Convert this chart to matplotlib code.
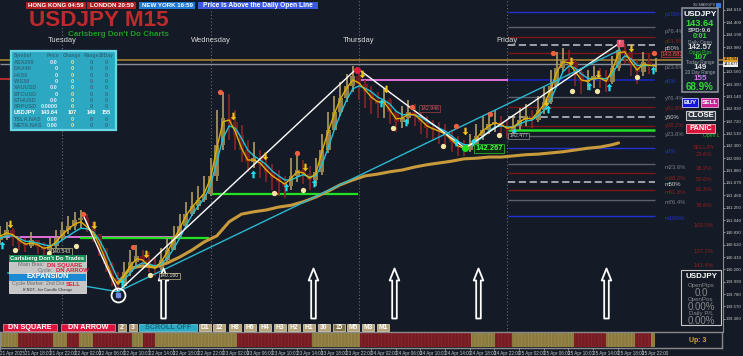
import matplotlib
matplotlib.use('Agg')
import matplotlib.pyplot as plt
from matplotlib.patches import Rectangle
from matplotlib.path import Path
import numpy as np

plt.rcParams['font.family'] = ['Liberation Sans', 'DejaVu Sans']
plt.rcParams['hatch.linewidth'] = 0.5

# ---------------- data: x = hours after 21 Apr 14:00, y = USDJPY price ----------------
hours = list(range(107))
first_open = 140.70
bar_close = [140.77, 140.87, 140.73, 140.63, 140.60, 140.70, 140.58, 140.53, 140.60, 140.73,
             140.87, 140.94, 141.04, 141.07, 140.94, 140.80, 140.56, 140.29, 140.05, 139.92,
             140.16, 140.33, 140.43, 140.36, 140.26, 140.22, 140.36, 140.53, 140.73, 140.94,
             141.14, 141.28, 141.38, 141.48, 141.79, 142.32, 142.77, 142.71, 142.49, 142.23,
             142.03, 142.09, 141.98, 141.86, 141.75, 141.69, 141.62, 141.79, 141.89, 141.82,
             141.72, 141.86, 142.23, 142.57, 142.88, 143.11, 143.32, 143.49, 143.35, 143.22,
             143.08, 143.01, 143.08, 142.88, 142.71, 142.77, 142.88, 142.81, 142.71, 142.60,
             142.57, 142.54, 142.47, 142.37, 142.28, 142.23, 142.33, 142.47, 142.57, 142.67,
             142.71, 142.64, 142.57, 142.64, 142.74, 142.81, 142.74, 142.91, 143.05, 143.32,
             143.62, 143.76, 143.73, 143.56, 143.39, 143.42, 143.49, 143.45, 143.39, 143.62,
             143.93, 143.90, 143.69, 143.56, 143.73, 143.66, 143.66]
bar_high = [140.94, 141.01, 140.90, 140.77, 140.73, 140.84, 140.70, 140.67, 140.73, 140.87,
            141.01, 141.11, 141.18, 141.21, 141.14, 141.01, 140.77, 140.56, 140.33, 140.16,
            140.33, 140.53, 140.62, 140.53, 140.50, 140.39, 140.56, 140.73, 140.94, 141.14,
            141.35, 141.52, 141.62, 141.79, 142.09, 142.91, 143.22, 143.18, 142.91, 142.66,
            142.40, 142.37, 142.23, 142.13, 141.99, 141.89, 141.79, 142.09, 142.20, 142.06,
            141.96, 142.09, 142.50, 142.88, 143.15, 143.39, 143.52, 143.66, 143.56, 143.42,
            143.32, 143.22, 143.28, 143.11, 142.91, 142.98, 143.08, 143.01, 142.91, 142.81,
            142.74, 142.71, 142.67, 142.57, 142.47, 142.40, 142.50, 142.67, 142.81, 142.88,
            142.91, 142.81, 142.74, 142.81, 142.94, 143.01, 142.91, 143.15, 143.32, 143.59,
            143.90, 143.96, 143.93, 143.76, 143.62, 143.59, 143.66, 143.62, 143.59, 143.83,
            144.07, 144.03, 143.90, 143.76, 143.90, 143.86, 143.79]
bar_low = [140.63, 140.70, 140.60, 140.53, 140.50, 140.56, 140.46, 140.43, 140.46, 140.56,
           140.70, 140.80, 140.87, 140.90, 140.84, 140.67, 140.43, 140.16, 139.92, 139.82,
           139.88, 140.09, 140.26, 140.19, 140.16, 140.09, 140.19, 140.33, 140.53, 140.73,
           140.90, 141.11, 141.21, 141.35, 141.45, 141.70, 142.23, 142.40, 142.23, 142.03,
           141.86, 141.92, 141.75, 141.69, 141.55, 141.45, 141.41, 141.55, 141.69, 141.65,
           141.55, 141.62, 141.80, 142.18, 142.57, 142.81, 143.05, 143.22, 143.08, 142.94,
           142.84, 142.77, 142.77, 142.67, 142.54, 142.60, 142.67, 142.64, 142.50, 142.43,
           142.40, 142.33, 142.30, 142.20, 142.13, 142.13, 142.20, 142.30, 142.40, 142.50,
           142.54, 142.50, 142.43, 142.50, 142.57, 142.64, 142.60, 142.71, 142.84, 143.01,
           143.32, 143.56, 143.49, 143.32, 143.18, 143.25, 143.28, 143.28, 143.22, 143.35,
           143.58, 143.69, 143.49, 143.35, 143.49, 143.52, 143.56]
ema_fast = [140.77, 140.82, 140.79, 140.70, 140.63, 140.65, 140.62, 140.56, 140.58, 140.67,
            140.79, 140.89, 140.97, 141.01, 140.92, 140.82, 140.62, 140.36, 140.09, 139.95,
            140.09, 140.26, 140.38, 140.36, 140.26, 140.22, 140.33, 140.50, 140.70, 140.90,
            141.11, 141.26, 141.38, 141.50, 141.75, 142.26, 142.71, 142.74, 142.54, 142.26,
            142.06, 142.06, 142.01, 141.89, 141.79, 141.72, 141.65, 141.75, 141.86, 141.84,
            141.75, 141.82, 142.20, 142.54, 142.84, 143.10, 143.28, 143.42, 143.37, 143.25,
            143.13, 143.05, 143.05, 142.91, 142.76, 142.77, 142.84, 142.83, 142.74, 142.64,
            142.59, 142.55, 142.50, 142.40, 142.30, 142.26, 142.32, 142.43, 142.55, 142.64,
            142.69, 142.66, 142.60, 142.62, 142.71, 142.77, 142.76, 142.88, 143.01, 143.25,
            143.56, 143.73, 143.71, 143.56, 143.42, 143.40, 143.45, 143.45, 143.40, 143.59,
            143.88, 143.90, 143.73, 143.59, 143.69, 143.67, 143.66]
ema_slow = [140.73, 140.77, 140.77, 140.73, 140.68, 140.67, 140.65, 140.62, 140.60, 140.63,
            140.70, 140.77, 140.84, 140.90, 140.89, 140.84, 140.70, 140.50, 140.26, 140.04,
            140.02, 140.14, 140.26, 140.31, 140.29, 140.26, 140.29, 140.39, 140.55, 140.73,
            140.94, 141.13, 141.28, 141.41, 141.64, 142.03, 142.43, 142.64, 142.60, 142.43,
            142.23, 142.13, 142.06, 141.98, 141.87, 141.79, 141.72, 141.72, 141.77, 141.81,
            141.77, 141.79, 141.98, 142.26, 142.57, 142.84, 143.08, 143.27, 143.32, 143.28,
            143.22, 143.13, 143.08, 143.01, 142.89, 142.83, 142.83, 142.83, 142.79, 142.72,
            142.66, 142.60, 142.55, 142.47, 142.38, 142.32, 142.32, 142.37, 142.45, 142.55,
            142.62, 142.64, 142.62, 142.62, 142.67, 142.72, 142.74, 142.81, 142.91, 143.08,
            143.32, 143.56, 143.66, 143.62, 143.52, 143.45, 143.44, 143.45, 143.44, 143.52,
            143.71, 143.83, 143.78, 143.67, 143.66, 143.67, 143.66]
vwap_h = [19, 21, 23, 25, 27, 29, 31, 33, 35, 37, 39, 41, 43, 45, 47, 49, 51, 53, 55, 57, 59,
          61, 63, 65, 67, 69, 71, 73, 75, 77, 79, 81, 83, 85, 87, 89, 91, 93, 95, 97, 99, 100]
vwap_px = [139.97, 140.22, 140.26, 140.24, 140.31, 140.41, 140.53, 140.67, 140.77, 141.01,
           141.14, 141.18, 141.21, 141.26, 141.29, 141.35, 141.43, 141.53, 141.64, 141.72,
           141.79, 141.82, 141.86, 141.89, 141.94, 141.98, 142.01, 142.04, 142.08, 142.09,
           142.11, 142.11, 142.13, 142.15, 142.16, 142.18, 142.20, 142.23, 142.26, 142.28,
           142.32, 142.35]

# signal markers (hour, price)
up_arrow_h = [0.3, 19.7, 40.9, 46.2, 50.7, 61.6, 65.6, 73.7, 76.5, 83.1, 88.6, 95.2, 98.5, 105.6]
up_arrow_p = [140.62, 139.97, 141.82, 141.60, 141.67, 143.03, 142.71, 142.37, 142.37, 142.54,
              142.93, 143.32, 143.30, 143.59]
dn_arrow_h = [1.5, 15.1, 23.5, 37.6, 42.8, 49.3, 58.5, 62.4, 75.2, 88.3, 92.3, 96.7, 102.0]
dn_arrow_p = [140.97, 140.96, 140.46, 142.81, 142.13, 141.94, 143.52, 143.27, 142.55, 143.05,
              143.74, 143.52, 143.96]
red_dot_h = [13.3, 21.4, 35.5, 48.0, 66.6, 73.7, 79.2, 89.4, 105.8]
red_dot_p = [141.14, 140.58, 143.22, 142.18, 142.96, 142.64, 142.84, 143.88, 143.88]
pale_dot_h = [2.4, 7.9, 12.2, 24.2, 44.3, 49.0, 63.5, 71.6, 80.7, 92.5, 96.5, 103.0]
pale_dot_p = [140.53, 140.48, 140.60, 140.11, 141.50, 141.55, 142.60, 142.30, 142.49, 143.23,
              143.23, 143.47]
big_arrow_h = [26.3, 50.6, 63.7, 77.3, 98.0]

# zigzag / trend lines
white_h = [13.3, 19.0, 57.7, 75.2, 100.2]
white_p = [141.14, 139.82, 143.62, 142.26, 144.05]
cyan_h = [1.2, 19.0, 100.2]
cyan_p = [140.14, 139.82, 143.93]

# horizontal level segments: start hour, end hour, price, colour, width
lev_h0 = [-0.1, -0.1, -0.1, 12.9, -0.1, 34.2, 57.9, 82.1, 82.1]
lev_h1 = [117, 117, 28.6, 33.7, 1.5, 57.9, 82.1, 105.9, 105.9]
lev_p = [143.76, 143.69, 140.75, 140.73, 143.44, 141.48, 143.42, 143.42, 142.57]
lev_c = ['#9a7a30', '#8a8e96', '#e070d8', '#22e022', '#d03030', '#22e022', '#e070d8', '#1a28c8', '#22e022']
lev_w = [1.3, 1.0, 1.4, 1.6, 1.2, 1.6, 1.4, 1.1, 1.8]

fib_p = [144.58, 144.32, 144.15, 144.02, 143.88, 143.13, 142.96, 142.79, 142.64, 142.47,
         142.26, 141.99, 141.84, 141.69, 141.55, 141.38, 141.11]
fib_kind = ['b', 'g', 'r', 'd', 'r', 'g', 'r', 'd', 'r', 'g', 'b', 'g', 'r', 'd', 'r', 'g', 'b']

fib_names = ['p100%', 'p76.4%', 'p61.8%', 'p50%', 'p23.6%', 'p0%', 'y76.4%', 'y61.8%', 'y50%',
             'y38.2%', 'y23.6%', 'y0%', 'm23.6%', 'm38.2%', 'm50%', 'm61.8%', 'm76.4%', 'm100%']
fib_label_p = [144.53, 144.25, 144.08, 143.96, 143.64, 143.39, 143.10, 142.93, 142.79, 142.64,
               142.49, 142.20, 141.94, 141.75, 141.64, 141.50, 141.33, 141.06]
fib_label_kind = ['b', 'g', 'r', 'd', 'g', 'b', 'g', 'r', 'd', 'r', 'g', 'b', 'g', 'r', 'd', 'r', 'g', 'b']
ext_names = ['SELL/Pr', '23.6%', '38.2%', '50.0%', '61.8%', '78.6%', '100.0%', '127.2%', '141.4%']
ext_p = [142.28, 142.15, 141.91, 141.72, 141.55, 141.28, 140.94, 140.50, 140.27]

day_names = ['Tuesday', 'Wednesday', 'Thursday', 'Friday']
day_h = [10, 34, 58, 82]

time_labels = ['21 Apr 2025', '21 Apr 18:00', '21 Apr 22:00', '22 Apr 02:00', '22 Apr 06:00',
               '22 Apr 10:00', '22 Apr 14:00', '22 Apr 18:00', '22 Apr 22:00', '23 Apr 02:00',
               '23 Apr 06:00', '23 Apr 10:00', '23 Apr 14:00', '23 Apr 18:00', '23 Apr 22:00',
               '24 Apr 02:00', '24 Apr 06:00', '24 Apr 10:00', '24 Apr 14:00', '24 Apr 18:00',
               '24 Apr 22:00', '25 Apr 02:00', '25 Apr 06:00', '25 Apr 10:00', '25 Apr 14:00',
               '25 Apr 18:00', '25 Apr 22:00']

price_ticks = [144.61, 144.40, 144.19, 143.98, 143.77, 143.56, 143.35, 143.14, 142.93, 142.72,
               142.51, 142.30, 142.09, 141.88, 141.67, 141.46, 141.25, 141.04, 140.83, 140.62,
               140.41, 140.20, 139.99, 139.78, 139.57, 139.36]

strip_edges = [-0.1, 2.8, 8.5, 10.8, 12.7, 15.0, 21.3, 23.1, 25.0, 38.3, 50.4, 58.3, 76.3,
               80.2, 82.8, 93.0, 98.1, 102.8, 105.4, 106.1]
strip_up = [True, False] * 9 + [True]

tbl_symbols = ['ASX200', 'DAX40', 'HK50', 'WS30', 'XAUUSD', 'BTCUSD', 'ETHUSD', 'XRPUSD',
               'USDJPY', 'TSLA.NAS', 'META.NAS']
tbl_price = ['0.0', '0', '0', '0', '0.0', '0', '0.0', '0.0000', '143.64', '0.00', '0.00']
tbl_change = ['0', '0', '0', '0', '0', '0', '0', '0', '107', '0', '0']
tbl_range = ['0', '0', '0', '0', '0', '0', '0', '0', '149', '0', '0']
tbl_20day = ['0', '0', '0', '0', '0', '0', '0', '0', '155', '0', '0']

tf_buttons = ['D1', '12', 'H8', 'H6', 'H4', 'H3', 'H2', 'H1', '30', '15', 'M5', 'M3', 'M1']

# ---------------- figure ----------------
W, H = 743, 356
BG = '#141b26'
GRAY = '#7a7e86'
DKRED = '#8e1c1c'
BLUE = '#2232d0'
kind_col = {'b': BLUE, 'g': '#5c6068', 'r': '#7a1616', 'd': '#a8acb2'}
kind_txt = {'b': BLUE, 'g': GRAY, 'r': DKRED, 'd': '#d0d0d0'}

fig = plt.figure(figsize=(W / 100, H / 100), dpi=100, facecolor=BG)
ax = fig.add_axes([0, 1 - 332 / H, 723 / W, 332 / H], facecolor=BG)
ax2 = fig.add_axes([0, 1 - 348 / H, 722 / W, 16 / H], facecolor=BG)

XL = (-0.08, 116.9)
ax.set_xlim(*XL)
ax.set_ylim(139.136, 144.78)


def fxy(x, y):
    return x / W, 1 - y / H


def pbox(x0, y0, x1, y1, fc, ec='none', lw=0.8, z=10):
    fig.add_artist(Rectangle(fxy(x0, y1), (x1 - x0) / W, (y1 - y0) / H, transform=fig.transFigure,
                             facecolor=fc, edgecolor=ec, linewidth=lw, zorder=z))


def ptext(x, y, s, color='white', size=5, ha='center', weight='bold', z=11, va='center'):
    fig.text(*fxy(x, y), s, color=color, fontsize=size, ha=ha, va=va,
             fontweight=weight, zorder=z)


# day separators
for h in day_h:
    ax.axvline(h, color='#6a6e78', ls=(0, (1, 2)), lw=0.8, zorder=1)

# horizontal levels
for h0, h1, p, c, w in zip(lev_h0, lev_h1, lev_p, lev_c, lev_w):
    ax.hlines(p, h0, h1, colors=c, lw=w, zorder=2)
for p, k in zip(fib_p, fib_kind):
    ax.hlines(p, 82.1, 105.9, colors=kind_col[k], lw=1.3 if k == 'd' else 1.0,
              linestyles=(0, (4, 2)) if k == 'd' else '-', zorder=2)

# candles
opens = [first_open] + bar_close[:-1]
is_up = [c >= o for o, c in zip(opens, bar_close)]
body_c = ['#94804c' if u else '#721b20' for u in is_up]
wick_c = ['#b09c68' if u else '#8c2428' for u in is_up]
ax.vlines(hours, bar_low, bar_high, colors=wick_c, lw=1.2, zorder=3)
ax.bar(hours, np.array(bar_close) - np.array(opens), bottom=opens, width=0.8,
       color=body_c, linewidth=0, zorder=3)

# averages
ax.plot(vwap_h, vwap_px, color='#c89a3c', lw=2.2, zorder=4, solid_capstyle='round')
ax.plot(hours, ema_slow, color='#22c4d8', lw=1.0, zorder=5)
ax.plot(hours, ema_fast, color='#e2b000', lw=1.0, zorder=5)

# trend lines
ax.plot(white_h, white_p, color='white', lw=1.0, zorder=6)
ax.plot(cyan_h, cyan_p, color='#2ab8d0', lw=1.0, zorder=6)

# markers
arrow_up = Path([(0, 3.5), (2.6, 0.6), (1.0, 0.6), (1.0, -3.5), (-1.0, -3.5), (-1.0, 0.6),
                 (-2.6, 0.6), (0, 3.5)], closed=True)
arrow_dn = Path([(x, -y) for x, y in arrow_up.vertices], closed=True)
big_arrow = Path([(0, 25), (4.8, 13), (2.3, 13), (2.3, -25), (-2.3, -25), (-2.3, 13), (-4.8, 13),
                  (0, 25)], closed=True)

ax.plot(up_arrow_h, up_arrow_p, ls='none', marker=arrow_up, ms=5.5, color='#19e0f5', mec='none', zorder=7)
ax.plot(dn_arrow_h, dn_arrow_p, ls='none', marker=arrow_dn, ms=5.5, color='#f2c21a', mec='none', zorder=7)
ax.plot(red_dot_h, red_dot_p, ls='none', marker='o', ms=3.8, color='#f0603e', mec='none', zorder=7)
ax.plot([57.7], [143.59], ls='none', marker='o', ms=4, color='#e01e3a', zorder=7)
ax.plot(pale_dot_h, pale_dot_p, ls='none', marker='o', ms=3.8, color='#f6e6a6', mec='none', zorder=7)
ax.plot([75.2], [142.26], ls='none', marker='o', ms=4, color='#22e022', zorder=7)
ax.plot(big_arrow_h, [139.80] * len(big_arrow_h), ls='none', marker=big_arrow, ms=36,
        mfc=BG, mec='white', mew=1.3, zorder=7)
ax.plot([19.0], [139.765], ls='none', marker='o', ms=10, mfc='none', mec='white', mew=1.3, zorder=8)
ax.plot([19.0], [139.765], ls='none', marker='s', ms=2.5, color='#7088e8', zorder=8)
ax.plot([100.2], [144.05], ls='none', marker='s', ms=5, color='#e8506a', zorder=8)
ax.text(100.2, 144.05, '!', color='white', fontsize=3.5, ha='center', va='center', fontweight='bold', zorder=9)

# price tags
tag_kw = dict(fontsize=3.8, ha='left', va='center', zorder=9)
ax.text(8.3, 140.50, '140.543', color='#ece6c6',
        bbox=dict(boxstyle='square,pad=0.15', fc=BG, ec='#c8bb86', lw=0.5), **tag_kw)
ax.text(25.8, 140.09, '140.160', color='#ece6c6',
        bbox=dict(boxstyle='square,pad=0.15', fc=BG, ec='#c8bb86', lw=0.5), **tag_kw)
ax.text(67.9, 142.94, '142.946', color='#e06060',
        bbox=dict(boxstyle='square,pad=0.15', fc=BG, ec='#a04040', lw=0.5), **tag_kw)
ax.text(82.3, 142.47, '142.477', color='#c8c8c8',
        bbox=dict(boxstyle='square,pad=0.15', fc=BG, ec='#909090', lw=0.5), **tag_kw)
ax.text(76.8, 142.26, '142.267', color='#44ff44', fontsize=5.4, fontweight='bold', ha='left',
        va='center', zorder=9, bbox=dict(boxstyle='square,pad=0.12', fc='#0c2a12', ec='#30b030', lw=0.6))
ax.text(107.0, 143.86, '143.882', color='#e05050', fontsize=4.3, ha='left', va='center', zorder=9,
        bbox=dict(boxstyle='square,pad=0.12', fc='#2a1a1e', ec='#c04040', lw=0.5))

# fib labels
for s, p, k in zip(fib_names, fib_label_p, fib_label_kind):
    ax.text(107.5, p, s, color=kind_txt[k], fontsize=4.2, ha='left', va='center', zorder=9)
for s, p in zip(ext_names, ext_p):
    ax.text(113.8, p, s, color=DKRED, fontsize=4.2, ha='center', va='center', zorder=9)
ax.text(113.7, 142.47, 'Open L', color='#22c022', fontsize=3.6, ha='left', va='center',
        zorder=9, clip_on=True)

# price axis
for s in ['top', 'left', 'bottom']:
    ax.spines[s].set_visible(False)
ax.spines['right'].set_color('#8a8a8a')
ax.spines['right'].set_linewidth(0.8)
ax.yaxis.tick_right()
ax.set_yticks(price_ticks)
ax.set_yticklabels(['' if abs(p - 143.77) < 0.01 else '%.3f' % p for p in price_ticks])
ax.tick_params(axis='y', length=1.5, width=0.5, pad=0.6, labelsize=3.2, colors='#c8c8c8')
ax.set_xticks([])

# bottom strip
ax2.set_xlim(*XL)
ax2.set_ylim(0, 1)
for a, b, u in zip(strip_edges[:-1], strip_edges[1:], strip_up):
    ax2.add_patch(Rectangle((a, 0.06), b - a, 0.88, facecolor='#8a7a3e' if u else '#761c22',
                            edgecolor='#a08e50' if u else '#8a2a2e', hatch='|||||', lw=0))
for s in ax2.spines.values():
    s.set_color('#8a8a8a')
    s.set_linewidth(1.0)
ax2.set_yticks([])
ax2.set_xticks(list(range(0, 105, 4)))
ax2.set_xticklabels(time_labels, ha='left')
ax2.tick_params(axis='x', length=1.5, width=0.5, pad=0.8, labelsize=3.3, colors='#c8c8c8')
ptext(698, 340, 'Up: 3', color='#d8a830', size=5)

# ---------------- overlays in pixel space ----------------
pbox(26, 2, 86, 9, '#b01e23')
ptext(56, 5.5, 'HONG KONG 04:59', size=4.4)
pbox(87, 2, 136, 9, '#b01e23')
ptext(111.5, 5.5, 'LONDON 20:59', size=4.4)
pbox(139, 2, 195, 9, '#1f78d1')
ptext(167, 5.5, 'NEW YORK 16:59', size=4.4)
pbox(198, 2, 318, 9, '#3a58e0')
ptext(258, 5.5, 'Price is Above the Daily Open Line', size=4.8)

ptext(29, 26.5, 'USDJPY M15', color='#bc2a2c', size=16.2, ha='left', va='baseline')
ptext(68, 34.5, "Carlsberg Don't Do Charts", color='#23962a', size=5.8, ha='left')

for name, h in zip(day_names, day_h):
    ptext(0.5 + h * 6.18, 40.5, name, color='#d8d8d8', size=5.4, weight='normal')

# market watch table
pbox(11, 51, 116, 130, '#2ca8c2', ec='#6ad6e6', lw=1.6)
TBL_DK = '#2f6c80'
ptext(14, 55.5, 'Symbol', color=TBL_DK, size=3.6, ha='left')
ptext(53, 55.5, 'Price', color=TBL_DK, size=3.6)
ptext(72, 55.5, 'Change', color=TBL_DK, size=3.6)
ptext(91, 55.5, 'Range', color=TBL_DK, size=3.6)
ptext(106, 55.5, '20Day', color=TBL_DK, size=3.6)
for i, sym in enumerate(tbl_symbols):
    y = 62.7 + i * 6.27
    hl = sym == 'USDJPY'
    ptext(14, y, sym, color='white' if hl else TBL_DK, size=4.0, ha='left')
    ptext(58, y, tbl_price[i], color='white' if hl else '#d8f2f8', size=4.0, ha='right')
    ptext(72, y, tbl_change[i], color='white' if hl else '#f2e88e', size=4.0)
    ptext(91, y, tbl_range[i], color='white' if hl else TBL_DK, size=4.0)
    ptext(106, y, tbl_20day[i], color='white' if hl else TBL_DK, size=4.0)

# trade status box
pbox(9, 255, 86, 293, '#c6c6c6', ec='#e0e0e0', lw=0.6)
pbox(9, 255, 86, 262, '#188a56')
ptext(47.5, 258.5, "Carlsberg Don't Do Trades", size=4.2)
ptext(44, 265, 'Main Bias:', color='#6a6a6a', size=4.0, ha='right', weight='normal')
ptext(47, 265, 'DN SQUARE', color='#d8203a', size=4.2, ha='left')
ptext(53, 270.5, 'Cycle:', color='#6a6a6a', size=4.0, ha='right', weight='normal')
ptext(56, 270.5, 'DN ARROW', color='#d8203a', size=4.2, ha='left')
pbox(9, 273.5, 86, 280.5, '#1b8ad2')
ptext(47.5, 277, 'EXPANSION', size=5.2)
ptext(64, 284, 'Cycle Marker: 2nd Dot', color='#6a6a6a', size=3.8, ha='right', weight='normal')
ptext(66, 284, 'SELL', color='#d8203a', size=4.2, ha='left')
ptext(47.5, 289.5, 'If NOT.. for Candle Change', color='#555555', size=2.8)

# bottom button row
pbox(3, 324, 57, 331, '#dc143c', ec='#f29aaa', lw=0.5)
ptext(30, 327.5, 'DN SQUARE', size=5.2)
pbox(61, 324, 115, 331, '#dc143c', ec='#f29aaa', lw=0.5)
ptext(88, 327.5, 'DN ARROW', size=5.2)
pbox(118, 324, 126, 331, '#a89068', ec='#e0d6c0', lw=0.5)
ptext(122, 327.5, '2', size=5)
pbox(129, 324, 137, 331, '#a89068', ec='#e0d6c0', lw=0.5)
ptext(133, 327.5, '3', size=5)
pbox(139, 324, 197, 331, '#2aaac4', ec='#7ad6e4', lw=0.5)
ptext(168, 327.5, 'SCROLL OFF', color='#1a6a7c', size=5.2)
tf_x0 = [199, 213, 229, 244, 259, 274, 288, 303, 318, 333, 347, 362, 377]
for lab, x0 in zip(tf_buttons, tf_x0):
    pbox(x0, 324, x0 + 12, 331, '#857348' if lab == '15' else '#b6a47c', ec='#e6dcc4', lw=0.5)
    ptext(x0 + 6, 327.5, lab, size=4.8)

# account panel (top right)
ptext(705, 5, 'XU.MARGFX', color='#b0b4bc', size=2.8, weight='normal')
pbox(716, 3, 721, 8, '#3a7ae0')
pbox(682, 8, 718, 92, '#182230', ec='#8a8e96', lw=1.2)
ptext(700, 14.5, 'USDJPY', size=6.0)
ptext(700, 23.5, '143.64', color='#33dd33', size=6.6)
ptext(700, 31, 'SPD:9.6', color='#d0d0d0', size=4.4)
ptext(700, 36.8, '0:01', color='#33dd33', size=5.2)
ptext(700, 42.3, 'Daily Open', color='#a0a4aa', size=3.4, weight='normal')
ptext(700, 47.3, '142.57', color='#e0e0e0', size=5.8)
ptext(700, 52.4, 'Open Pips', color='#33cc33', size=3.4, weight='normal')
ptext(700, 57.3, '107', color='#33dd33', size=5.8)
ptext(700, 62.7, 'Today Range', color='#a0a4aa', size=3.4, weight='normal')
ptext(700, 67.7, '149', color='#e0e0e0', size=5.8)
ptext(700, 72.8, '20 Day Range', color='#a0a4aa', size=3.4, weight='normal')
ptext(700, 78.3, '155', color='#d47cf2', size=5.8)
ptext(700, 87.3, '68.9%', color='#33dd33', size=7.0)

pbox(682, 98, 698, 107, '#1414dc', ec='#c8c8ff', lw=0.6)
ptext(690, 102.5, 'BUY', size=4.6)
pbox(701, 98, 718, 107, '#cc2494', ec='#f0b0dc', lw=0.6)
ptext(709.5, 102.5, 'SELL', size=4.6)
pbox(686, 111, 715, 120, '#2e3640', ec='#c8c8c8', lw=0.8)
ptext(700.5, 115.5, 'CLOSE', size=5.6)
pbox(686, 124, 715, 133, '#dc143c', ec='#f0b0b8', lw=0.6)
ptext(700.5, 128.5, 'PANIC', size=5.4)

# bid / ask tags on the axis
pbox(723, 57, 738, 61.5, '#e0a020')
ptext(730.5, 59.3, '143.764', color='black', size=2.8, weight='normal')
pbox(723, 62, 738, 66.5, '#f0f0f0')
ptext(730.5, 64.3, '143.677', color='black', size=2.8, weight='normal')

# open position box (bottom right)
pbox(681, 270, 721, 325, BG, ec='#c8c8c8', lw=0.8)
ptext(701, 277, 'USDJPY', size=5.8)
ptext(701, 285, 'OpenPips', color='#8a8a8a', size=4.4, weight='normal')
ptext(701, 292.7, '0.0', color='#8a8a8a', size=7, weight='normal')
ptext(701, 300, 'OpenPos', color='#8a8a8a', size=4.4, weight='normal')
ptext(701, 307.3, '0.00%', color='#8a8a8a', size=7, weight='normal')
ptext(701, 314, 'Daily P/L', color='#8a8a8a', size=4.4, weight='normal')
ptext(701, 321.5, '0.00%', color='#8a8a8a', size=7, weight='normal')

fig.savefig('out.png', dpi=100, facecolor=BG)
